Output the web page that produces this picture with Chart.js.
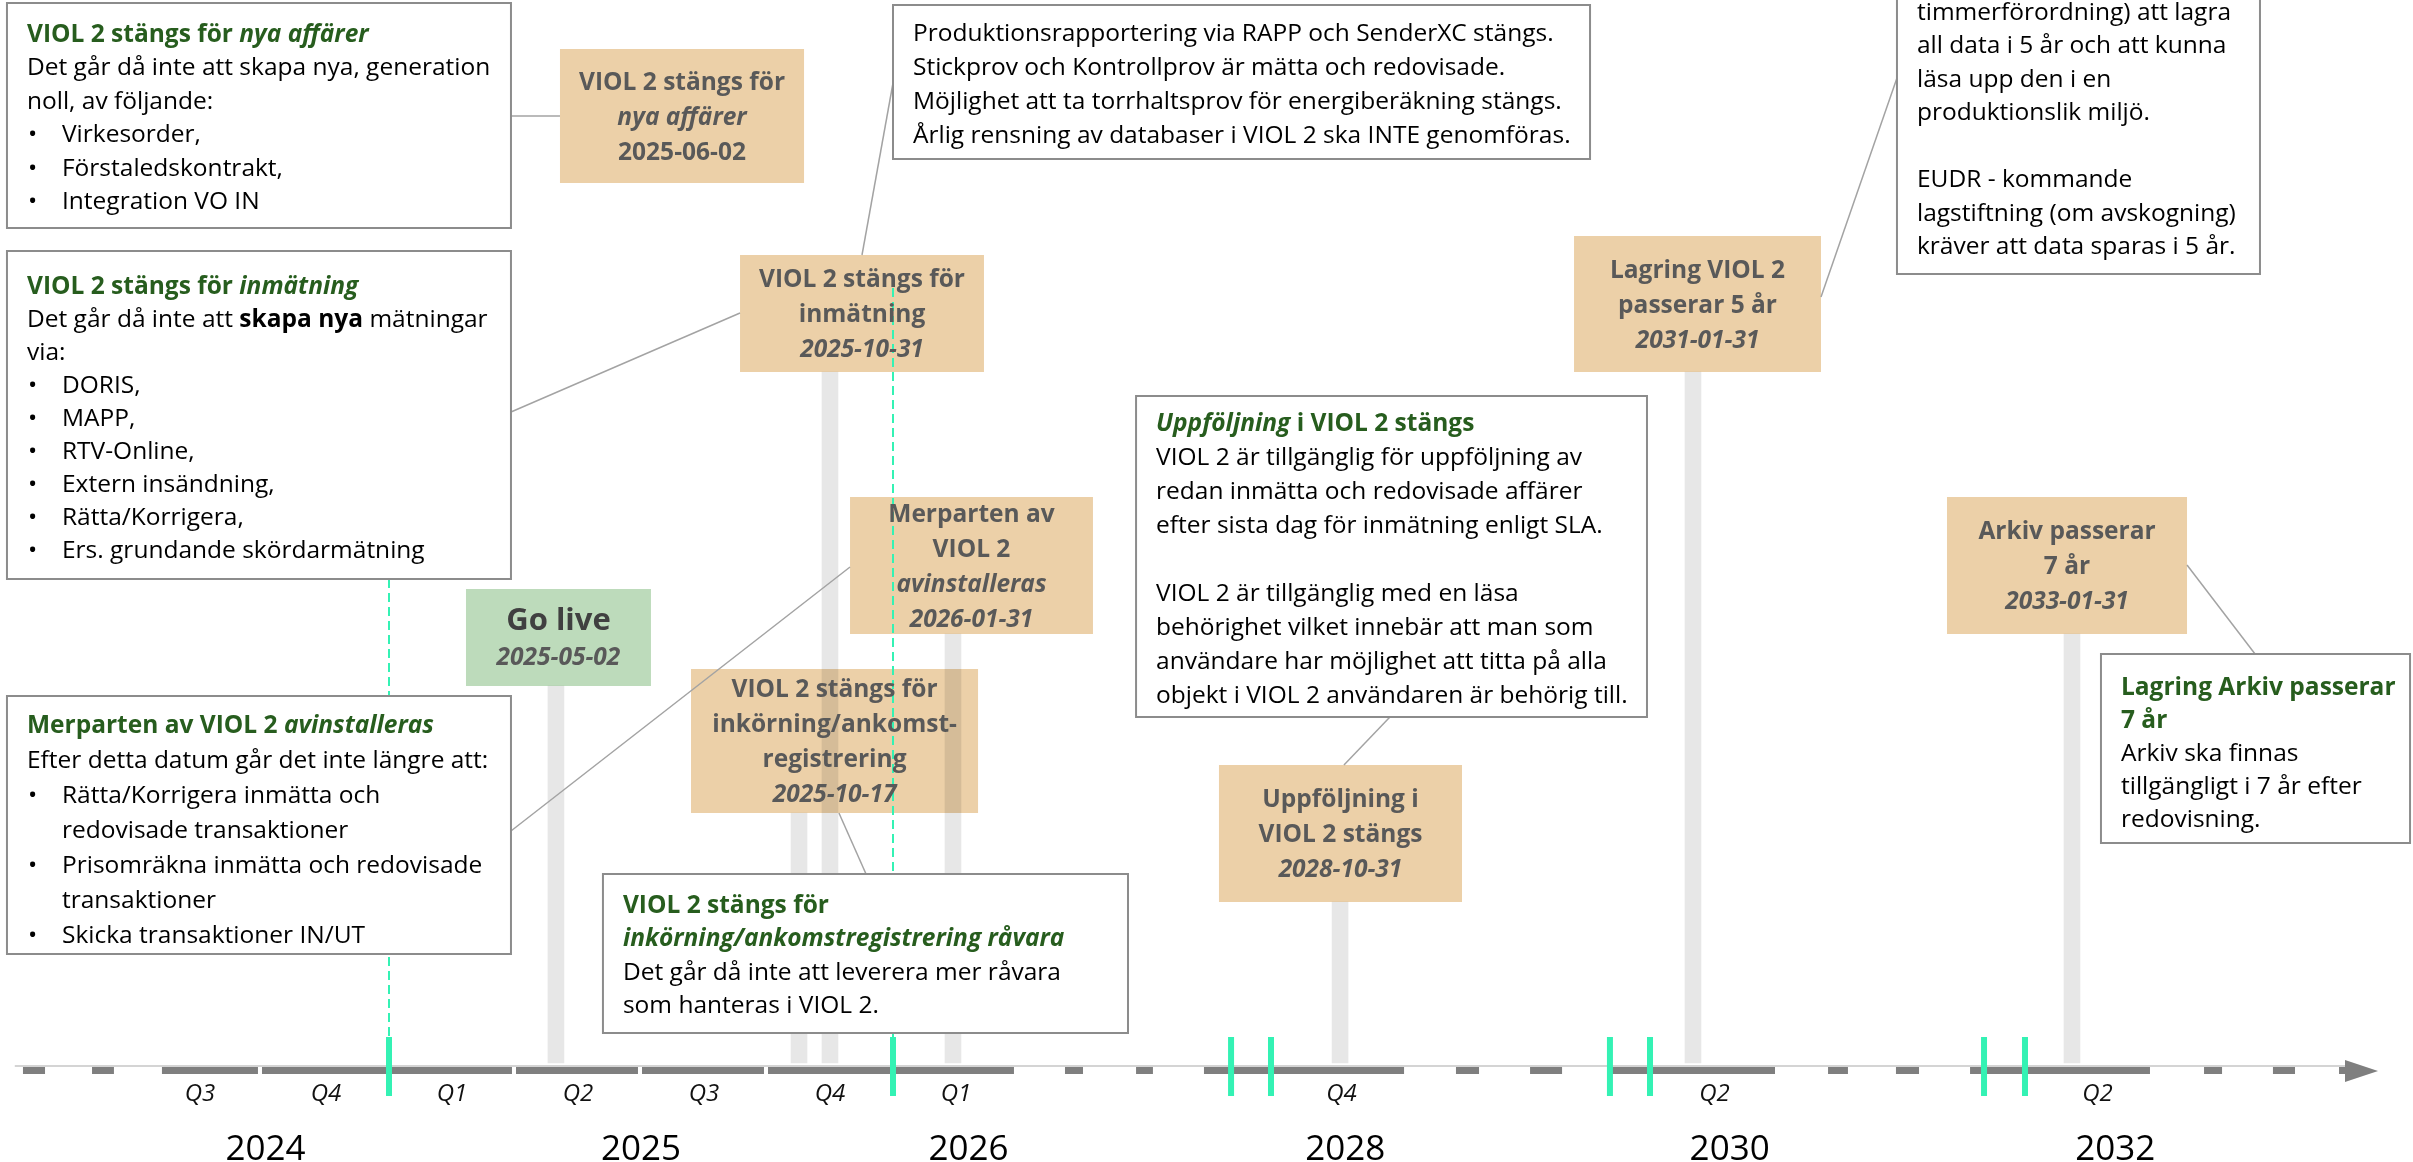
<!DOCTYPE html>
<html>
<head>
<meta charset="utf-8">
<script src="https://cdn.jsdelivr.net/npm/chart.js@4.4.1/dist/chart.umd.min.js"></script>
<style>
html,body{margin:0;padding:0;background:#fff;}
#wrap{width:2413px;height:1162px;position:relative;}
canvas{display:block;}
</style>
</head>
<body>
<div id="wrap"><canvas id="c" width="2413" height="1162"></canvas></div>
<script>
// ---------- Axis ticks (x unit = one quarter from 2024 Q3 on a compressed timeline) ----------
const quarterLabels = ['Q3','Q4','Q1','Q2','Q3','Q4','Q1','Q4','Q2','Q2'];
const quarterPos    = [0.5, 1.5, 2.5, 3.5, 4.5, 5.5, 6.5, 9.56, 12.52, 15.56];
const yearLabels    = ['2024','2025','2026','2028','2030','2032'];
const yearPos       = [1.02, 4.0, 6.6, 9.59, 12.64, 15.70];

// ---------- Milestones ----------
const milestoneDates  = ['2025-05-02','2025-06-02','2025-10-17','2025-10-31','2026-01-31','2028-10-31','2031-01-31','2033-01-31'];
const milestoneTitles = [
  ['Go live'],
  ['VIOL 2 stängs för','*nya affärer'],
  ['VIOL 2 stängs för','inkörning/ankomst-','registrering'],
  ['VIOL 2 stängs för','inmätning'],
  ['Merparten av','VIOL 2','*avinstalleras'],
  ['Uppföljning i','VIOL 2 stängs'],
  ['Lagring VIOL 2','passerar 5 år'],
  ['Arkiv passerar','7 år']
];
const milestoneDateItalic = [true,false,true,true,true,true,true,true];
const milestonePos = [3.325, 4.33, 5.254, 5.500, 6.476, 9.548, 12.349, 15.357];   // stem position on axis
const stemTop      = [686, null, 813, 372, 634, 902, 372, 634];                   // stem top (rows from top)
const STEM_BASE = 1063;

// ---------- Callout texts ----------
const calloutTexts = [
  [ [['VIOL 2 stängs för ','bg'],['nya affärer','big']],
    'Det går då inte att skapa nya, generation',
    'noll, av följande:',
    '• Virkesorder,',
    '• Förstaledskontrakt,',
    '• Integration VO IN' ],
  [ 'Produktionsrapportering via RAPP och SenderXC stängs.',
    'Stickprov och Kontrollprov är mätta och redovisade.',
    'Möjlighet att ta torrhaltsprov för energiberäkning stängs.',
    'Årlig rensning av databaser i VIOL 2 ska INTE genomföras.' ],
  [ 'timmerförordning) att lagra',
    'all data i 5 år och att kunna',
    'läsa upp den i en',
    'produktionslik miljö.',
    '',
    'EUDR - kommande',
    'lagstiftning (om avskogning)',
    'kräver att data sparas i 5 år.' ],
  [ [['VIOL 2 stängs för ','bg'],['inmätning','big']],
    [['Det går då inte att ',''],['skapa nya','b'],[' mätningar','']],
    'via:',
    '• DORIS,',
    '• MAPP,',
    '• RTV-Online,',
    '• Extern insändning,',
    '• Rätta/Korrigera,',
    '• Ers. grundande skördarmätning' ],
  [ [['Uppföljning','big'],[' i VIOL 2 stängs','bg']],
    'VIOL 2 är tillgänglig för uppföljning av',
    'redan inmätta och redovisade affärer',
    'efter sista dag för inmätning enligt SLA.',
    '',
    'VIOL 2 är tillgänglig med en läsa',
    'behörighet vilket innebär att man som',
    'användare har möjlighet att titta på alla',
    'objekt i VIOL 2 användaren är behörig till.' ],
  [ [['Lagring Arkiv passerar','bg']],
    [['7 år','bg']],
    'Arkiv ska finnas',
    'tillgängligt i 7 år efter',
    'redovisning.' ],
  [ [['VIOL 2 stängs för','bg']],
    [['inkörning/ankomstregistrering råvara','big']],
    'Det går då inte att leverera mer råvara',
    'som hanteras i VIOL 2.' ],
  [ [['Merparten av VIOL 2 ','bg'],['avinstalleras','big']],
    'Efter detta datum går det inte längre att:',
    '• Rätta/Korrigera inmätta och',
    '  redovisade transaktioner',
    '• Prisomräkna inmätta och redovisade',
    '  transaktioner',
    '• Skicka transaktioner IN/UT' ]
];

// ---------- Layout (in scale units: x = axis quarters, y = rows from top) ----------
const milestoneBox = [
  [2.611, 4.079, 589, 686],
  [3.357, 5.294, 49, 183],
  [4.397, 6.675, 669, 813],
  [4.786, 6.722, 255, 372],
  [5.659, 7.587, 497, 634],
  [8.587, 10.516, 765, 902],
  [11.405, 13.365, 236, 372],
  [14.365, 16.270, 497, 634]
];
const calloutBox = [ // x0, x1, y0, y1, firstLineY, lineStep
  [-1.032, 2.968, 3, 228, 33, 33.5],
  [6.0, 11.532, 5, 159, 32, 34],
  [13.968, 16.849, -300, 274, 11, 33.5],
  [-1.032, 2.968, 251, 579, 285, 33],
  [7.929, 11.984, 396, 717, 422, 34],
  [15.587, 18.04, 654, 843, 686, 33],
  [3.698, 7.865, 874, 1033, 904, 33.5],
  [-1.032, 2.968, 696, 954, 724, 35]
];
const links = [
  [2.968,116,3.357,116],[6.0,83,5.754,255],[13.968,78,13.365,297],[2.968,412,4.786,313],
  [9.944,717,9.579,765],[16.81,654,16.27,565],[5.786,874,5.571,813],[2.968,831,5.659,567]
];
const axisSolid  = [[0.198,0.960],[0.992,2.976],[3.008,3.976],[4.008,4.976],[5.008,6.960],[8.468,10.056],[11.690,13.0],[14.548,15.976]];
const axisDashes = [[-0.905,-0.730],[-0.357,-0.183],[7.365,7.508],[7.929,8.063],[10.468,10.651],[11.056,11.310],[13.421,13.579],[13.960,14.143],[16.405,16.548],[16.952,17.127]];
const axisThin   = [-0.97, 17.55];
const axisArrow  = [17.524, 17.786];
const markerPos  = [2.0, 6.0, 8.683, 9.0, 11.69, 12.008, 14.659, 14.984];
const guidePos   = [2.0, 6.0];
const guideTop   = [579, 288];

const XMIN = -137/126, XMAX = (2413-137)/126, YMAX = 1069;
const FONT = '"Open Sans", "Noto Sans", sans-serif';
const BODY = 24.5;
const GREEN_TXT = '#275d1e', ORANGE = '#ecd0a8', GO_GREEN = '#bddbbb', MINT = '#34f2b4';

function fontStr(flags, size){
  return (flags.includes('i')?'italic ':'') + (flags.includes('b')?'bold ':'') + size + 'px ' + FONT;
}

const timelinePlugin = {
  id: 'timeline',
  beforeDatasetsDraw(chart){
    const ctx = chart.ctx, X = v=>chart.scales.x.getPixelForValue(v), Y = v=>chart.scales.y.getPixelForValue(v);
    ctx.save();
    milestoneBox.forEach((b,i)=>{
      ctx.fillStyle = i===0 ? GO_GREEN : ORANGE;
      ctx.fillRect(X(b[0]), Y(b[2]), X(b[1])-X(b[0]), Y(b[3])-Y(b[2]));
    });
    ctx.restore();
  },
  afterDatasetsDraw(chart){
    const ctx = chart.ctx, X = v=>chart.scales.x.getPixelForValue(v), Y = v=>chart.scales.y.getPixelForValue(v);
    ctx.save();
    // dashed guides
    ctx.strokeStyle = MINT; ctx.lineWidth = 2; ctx.setLineDash([9,5]);
    guidePos.forEach((g,i)=>{ ctx.beginPath(); ctx.moveTo(X(g), Y(guideTop[i])); ctx.lineTo(X(g), Y(1037)); ctx.stroke(); });
    ctx.setLineDash([]);
    // axis
    ctx.strokeStyle = '#d4d4d4'; ctx.lineWidth = 2;
    ctx.beginPath(); ctx.moveTo(X(axisThin[0]), Y(1066)); ctx.lineTo(X(axisThin[1]), Y(1066)); ctx.stroke();
    ctx.fillStyle = '#7f7f7f';
    axisSolid.concat(axisDashes).forEach(s=>{ ctx.fillRect(X(s[0]), Y(1067), X(s[1])-X(s[0]), 7); });
    ctx.beginPath();
    ctx.moveTo(X(axisArrow[0]), Y(1060)); ctx.lineTo(X(axisArrow[1]), Y(1071)); ctx.lineTo(X(axisArrow[0]), Y(1082)); ctx.closePath(); ctx.fill();
    ctx.fillRect(X(axisArrow[0])-6, Y(1067), 8, 7);
    // markers
    ctx.fillStyle = MINT;
    markerPos.forEach(m=>{ ctx.fillRect(X(m)-3, Y(1037), 6, 59); });
    // links
    ctx.strokeStyle = '#a3a3a3'; ctx.lineWidth = 1.5;
    links.forEach(l=>{ ctx.beginPath(); ctx.moveTo(X(l[0]), Y(l[1])); ctx.lineTo(X(l[2]), Y(l[3])); ctx.stroke(); });
    // callouts
    ctx.textBaseline = 'alphabetic';
    calloutTexts.forEach((lines,k)=>{
      const b = calloutBox[k];
      const x0 = X(b[0]), x1 = X(b[1]), y0 = Y(b[2]), y1 = Y(b[3]);
      ctx.fillStyle = '#fff'; ctx.fillRect(x0, y0, x1-x0, y1-y0);
      ctx.strokeStyle = '#8c8c8c'; ctx.lineWidth = 2; ctx.strokeRect(x0, y0, x1-x0, y1-y0);
      lines.forEach((ln,i)=>{
        const base = Y(b[4] + i*b[5]) + BODY*0.36;
        let x = x0 + 20, runs;
        if (typeof ln === 'string'){
          if (ln.startsWith('• ')){
            ctx.font = fontStr('',BODY); ctx.fillStyle = '#000'; ctx.textAlign='left';
            ctx.fillText('•', x0 + 21, base);
            x = x0 + 55; runs = [[ln.slice(2),'']];
          } else if (ln.startsWith('  ')){
            x = x0 + 55; runs = [[ln.trim(),'']];
          } else runs = [[ln,'']];
        } else runs = ln;
        ctx.textAlign = 'left';
        runs.forEach(([t,f])=>{
          ctx.font = fontStr(f,BODY);
          ctx.fillStyle = f.includes('g') ? GREEN_TXT : '#000';
          ctx.fillText(t, x, base);
          x += ctx.measureText(t).width;
        });
      });
    });
    // milestone box texts
    ctx.textAlign = 'center';
    milestoneBox.forEach((b,i)=>{
      const lines = milestoneTitles[i].map(t=> t.startsWith('*') ? [t.slice(1),'bi'] : [t,'b']);
      lines.push([milestoneDates[i], milestoneDateItalic[i] ? 'bi' : 'b']);
      const cx = (X(b[0])+X(b[1]))/2, cy = (Y(b[2])+Y(b[3]))/2;
      const step = i===0 ? 38 : 35;
      lines.forEach(([t,f],j)=>{
        const size = (i===0 && j===0) ? 31 : 24.5;
        const y = cy + (j-(lines.length-1)/2)*step + size*0.36;
        ctx.font = fontStr(f,size);
        ctx.fillStyle = (i===0 && j===0) ? '#404040' : '#595959';
        ctx.fillText(t, cx, y);
      });
    });
    ctx.restore();
  }
};

function start(){
  const stems = milestonePos.map((p,i)=>({x:p, y: stemTop[i]===null ? null : [STEM_BASE, stemTop[i]]})).filter(d=>d.y!==null);
  const tickFont = {family: FONT, size: 24, style: 'italic'};
  new Chart(document.getElementById('c'), {
    type: 'bar',
    data: { datasets: [{ data: stems, backgroundColor: 'rgba(0,0,0,0.095)', borderWidth: 0, barThickness: 16, grouped: false }] },
    options: {
      responsive: false, animation: false, devicePixelRatio: 1,
      layout: { padding: 0 },
      plugins: { legend: {display:false}, tooltip: {enabled:false} },
      scales: {
        x: { type:'linear', axis:'x', position:'bottom', weight:0, min:XMIN, max:XMAX, offset:false,
             grid:{display:false, drawTicks:false, offset:false}, border:{display:false},
             afterBuildTicks: s=>{ s.ticks = quarterPos.map(v=>({value:v})); },
             afterFit: s=>{ s.height = 50; },
             ticks:{ autoSkip:false, maxRotation:0, minRotation:0, padding:11, color:'#111', font: tickFont,
                     callback:(v,i)=>quarterLabels[i] } },
        x2:{ type:'linear', axis:'x', position:'bottom', weight:1, min:XMIN, max:XMAX, offset:false,
             grid:{display:false, drawTicks:false, offset:false}, border:{display:false},
             afterBuildTicks: s=>{ s.ticks = yearPos.map(v=>({value:v})); },
             afterFit: s=>{ s.height = 43; },
             ticks:{ autoSkip:false, maxRotation:0, minRotation:0, padding:10, color:'#000', font:{family:FONT, size:35},
                     callback:(v,i)=>yearLabels[i] } },
        y: { type:'linear', reverse:true, min:0, max:YMAX, display:false }
      }
    },
    plugins: [timelinePlugin]
  });
}
Promise.all(['24px','bold 24px','italic 24px','italic bold 24px','35px'].map(f=>document.fonts.load(f+' "Open Sans"'))).then(start, start);
</script>
</body>
</html>
